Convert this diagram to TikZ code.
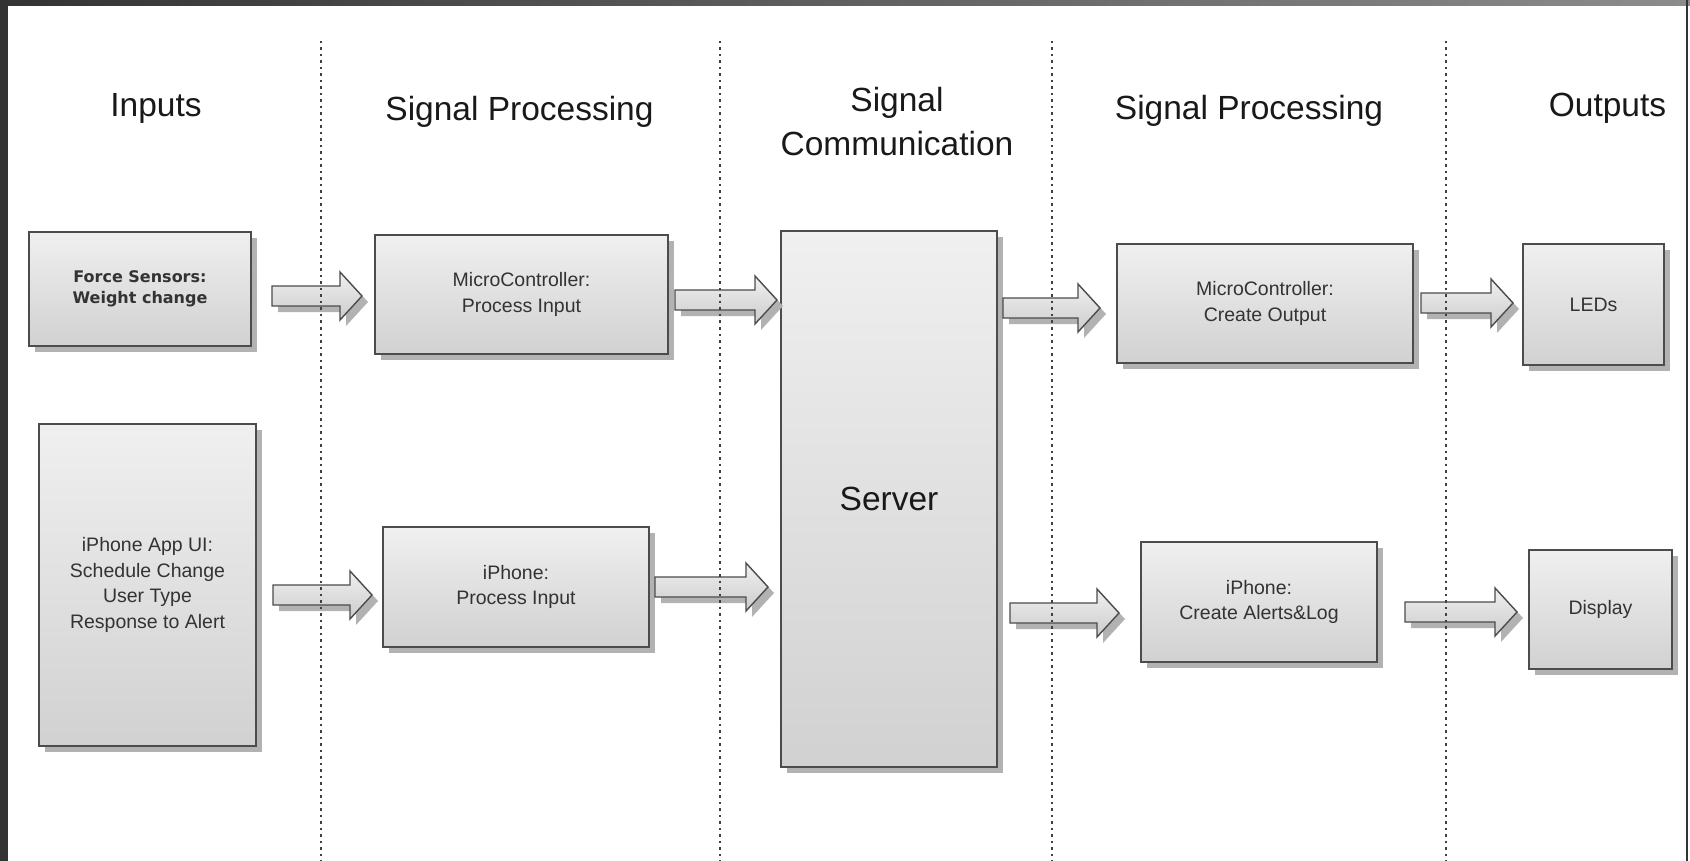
\documentclass[tikz,border=0pt]{standalone}
\usepackage{fontspec}
\setmainfont{Liberation Sans}
\newfontfamily\labelfont{DejaVu Sans}
\usetikzlibrary{calc,shadows}

\tikzset{
  box/.style={draw=black!70, line width=1.5pt, top color=black!6, bottom color=black!18,
    text=black!80, font=\fontsize{19.5}{25.5}\selectfont, align=center, inner sep=0pt,
    drop shadow={shadow xshift=6pt, shadow yshift=-6pt, fill=black!30, opacity=1}},
  header/.style={font=\fontsize{33.5}{44}\selectfont, text=black!90, align=center},
  sepline/.style={black!75, line width=1.2pt, dash pattern=on 2.5pt off 4pt},
  blockarrow/.style={draw=black!70, line width=1.4pt, top color=black!6, bottom color=black!20,
    drop shadow={shadow xshift=6pt, shadow yshift=-6pt, fill=black!30, opacity=1},
    to path={let \p1=(\tikztostart), \p2=(\tikztotarget) in
      (\x1,\y1+10) -- (\x2-22,\y1+10) -- (\x2-22,\y1+24) -- (\x2,\y1)
      -- (\x2-22,\y1-24) -- (\x2-22,\y1-10) -- (\x1,\y1-10) -- cycle}}
}

\begin{document}
\begin{tikzpicture}[x=1pt, y=-1pt]
    \useasboundingbox (0,0) rectangle (1690,861);
    % frame
    \fill[white] (0,0) rectangle (1690,861);
    \fill[black!80] (0,0) rectangle (8,861);
    \shade[left color=black!80, right color=black!45] (0,0) rectangle (1690,6);
    \draw[black!80, line width=2pt] (1687,0) -- (1687,861);

    % column titles
    \node[header, anchor=base] (hin) at (156,117) {Inputs};
    \node[header, anchor=base] (hsp1) at (519.5,121) {Signal Processing};
    \node[header] (hcom) at (897,122) {Signal\\Communication};
    \node[header, anchor=base] (hsp2) at (1249,120) {Signal Processing};
    \node[header, anchor=base] (hout) at (1607.5,117) {Outputs};

    % blocks
    \node[box, minimum width=222pt, minimum height=114pt,
      font=\labelfont\bfseries\fontsize{16}{21.5}\selectfont] (force) at (140,289) {Force Sensors:\\Weight change};
    \node[box, minimum width=293pt, minimum height=119pt] (mcin) at (521.5,294.5) {MicroController:\\Process Input};
    \node[box, minimum width=216pt, minimum height=536pt,
      font=\fontsize{33.5}{44}\selectfont, text=black!90] (server) at (889,499) {Server};
    \node[box, minimum width=296pt, minimum height=119pt] (mcout) at (1265,303.5) {MicroController:\\Create Output};
    \node[box, minimum width=141pt, minimum height=121pt] (leds) at (1593.5,304.5) {LEDs};
    \node[box, minimum width=217pt, minimum height=322pt] (appui) at (147.5,585)
      {iPhone App UI:\\Schedule Change\\User Type\\Response to Alert};
    \node[box, minimum width=266pt, minimum height=120pt] (iphin) at (516,587) {iPhone:\\Process Input};
    \node[box, minimum width=236pt, minimum height=120pt] (iphout) at (1259,602) {iPhone:\\Create Alerts\&Log};
    \node[box, minimum width=143pt, minimum height=119pt] (display) at (1600.5,609.5) {Display};

    % arrow ends
    \coordinate (s1) at (272,296);   \coordinate (t1) at (362,296);
    \coordinate (s2) at (675,300);   \coordinate (t2) at (777,300);
    \coordinate (s3) at (1003,308);  \coordinate (t3) at (1100,308);
    \coordinate (s4) at (1421,303);  \coordinate (t4) at (1513,303);
    \coordinate (s5) at (273,595);   \coordinate (t5) at (372,595);
    \coordinate (s6) at (655,587);   \coordinate (t6) at (768,587);
    \coordinate (s7) at (1010,613);  \coordinate (t7) at (1119,613);
    \coordinate (s8) at (1405,612);  \coordinate (t8) at (1517,612);
    \foreach \i in {1,...,8}
      \path[blockarrow] (s\i) to (t\i);

    % column separators
    \foreach \x in {321,720,1052,1446}
      \draw[sepline] (\x,41) -- (\x,861);
\end{tikzpicture}
\end{document}
